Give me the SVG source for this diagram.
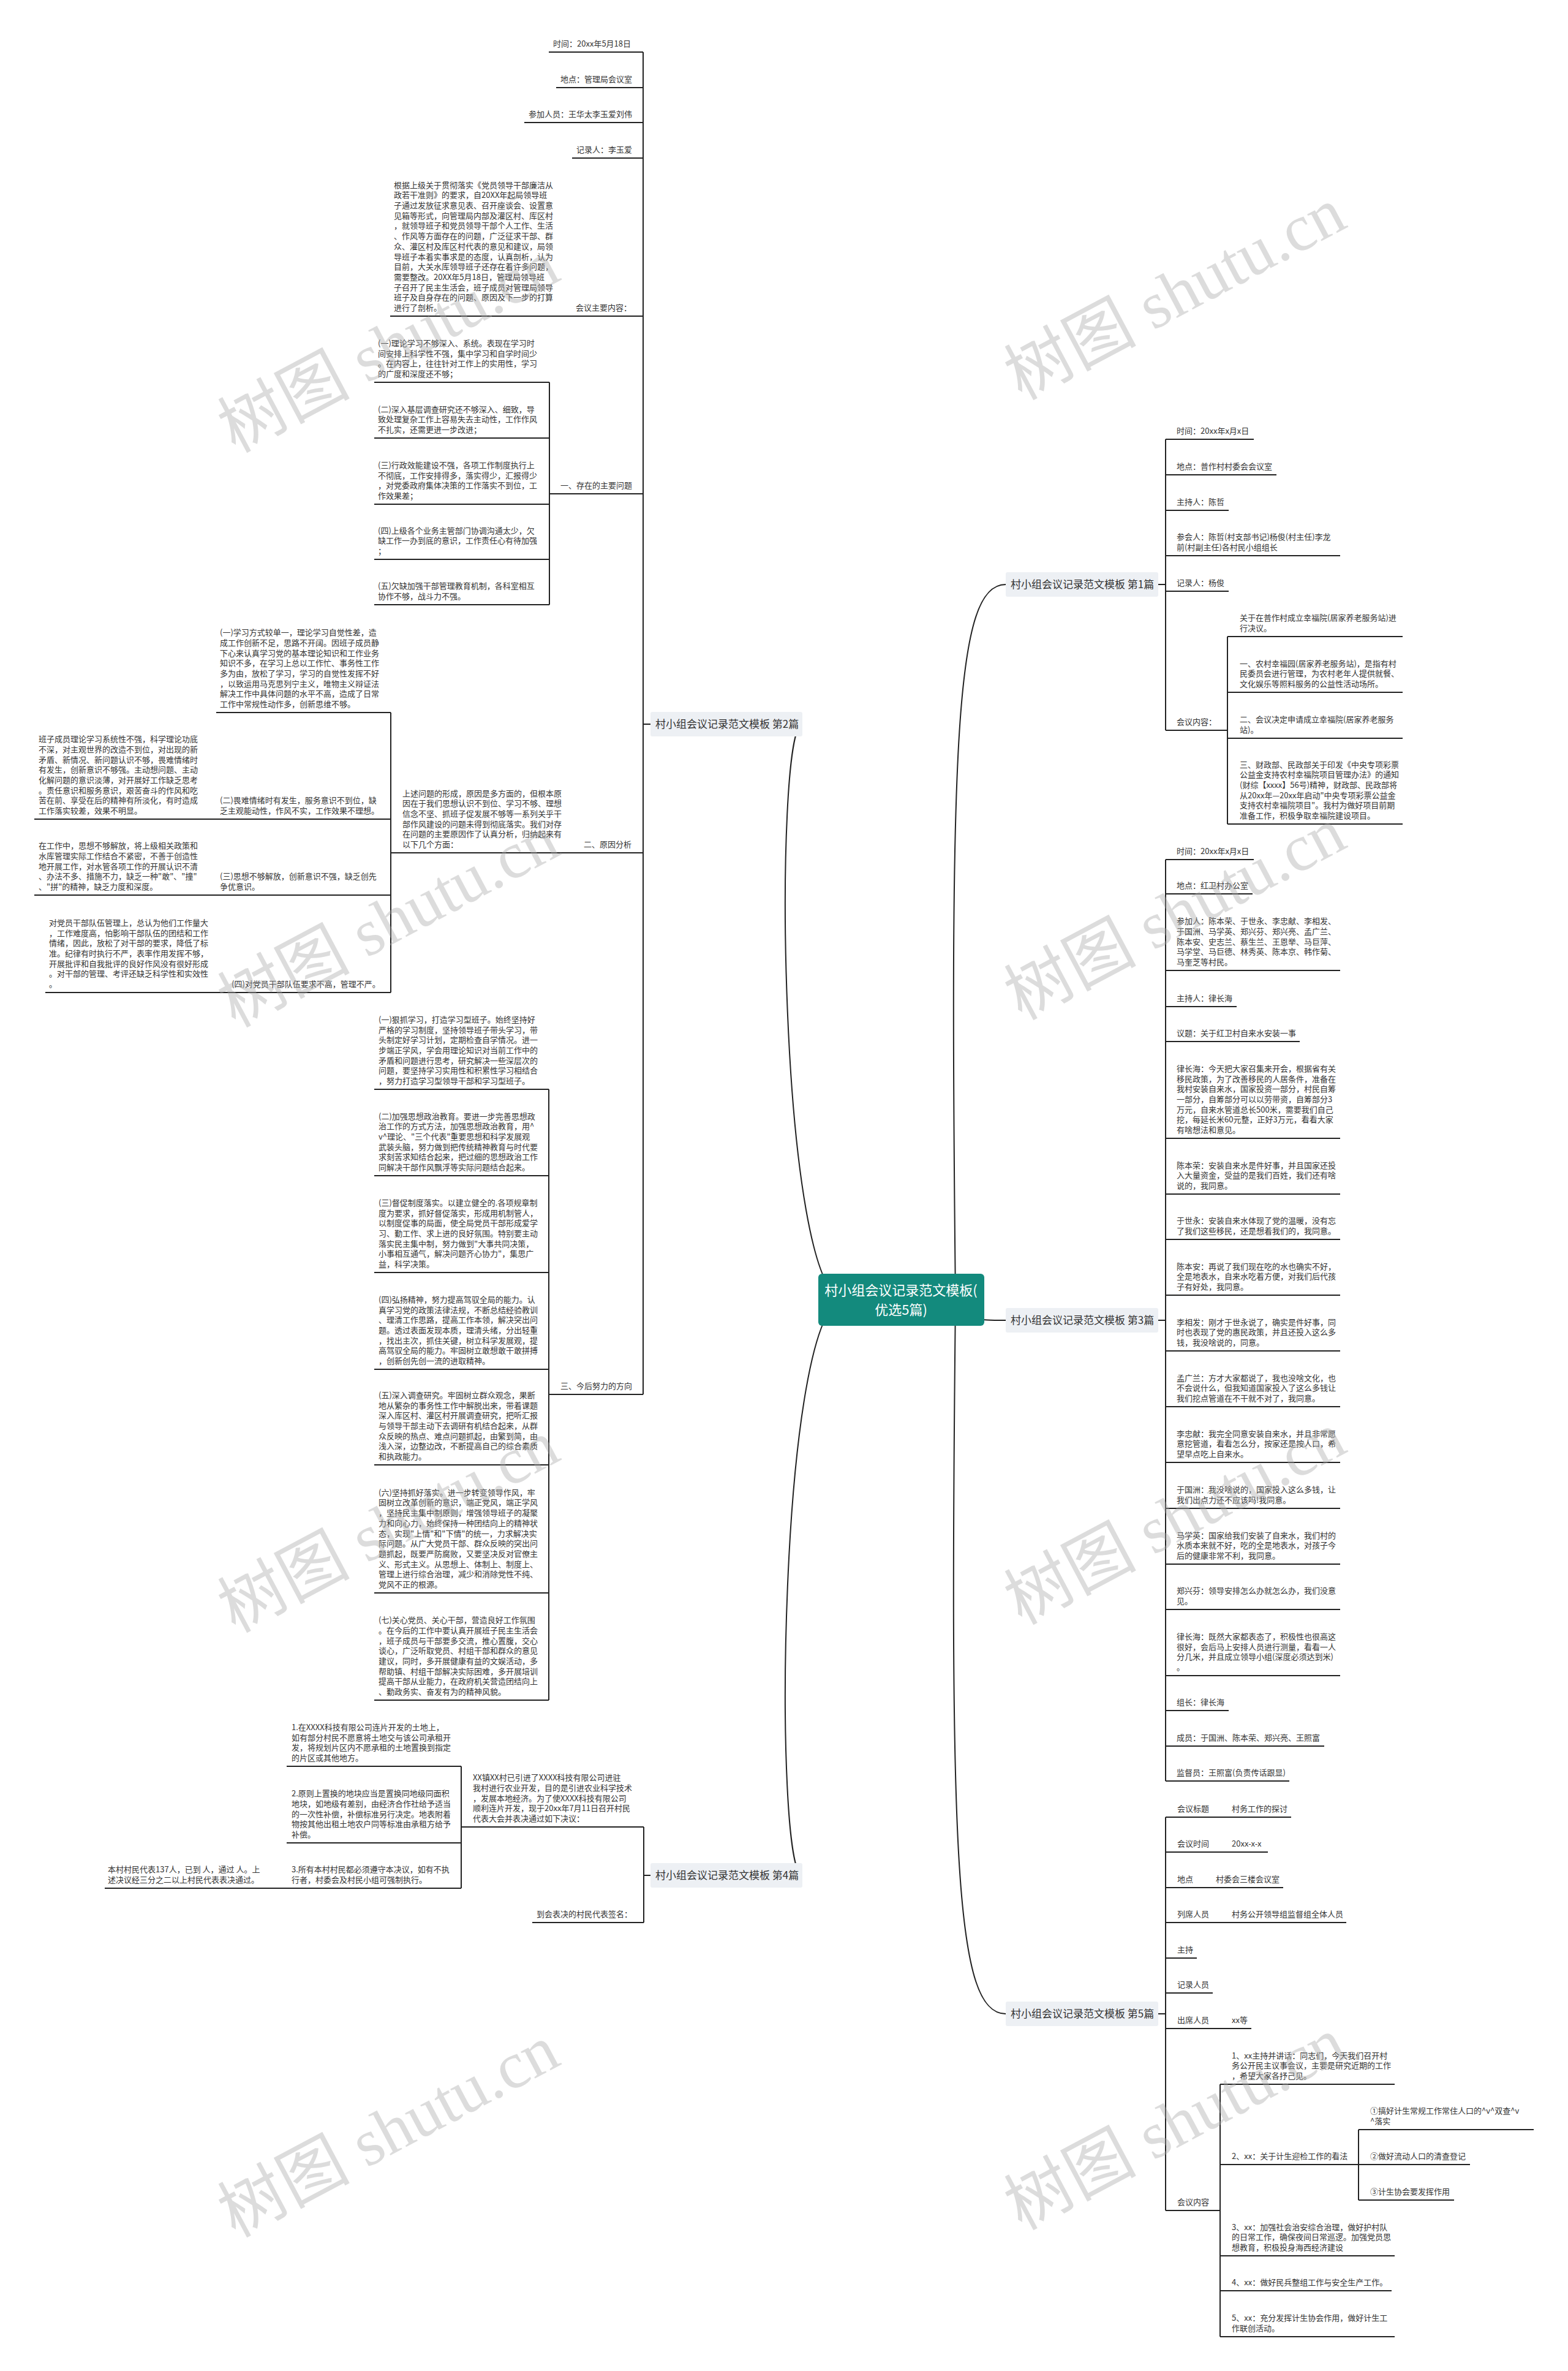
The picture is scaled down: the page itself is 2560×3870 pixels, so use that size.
<svg xmlns="http://www.w3.org/2000/svg" width="2560" height="3870" viewBox="0 0 2560 3870">
<style>
.t{font-family:"Noto Sans CJK SC","Noto Sans",sans-serif;font-size:13px;fill:#333}
.u{stroke:#222;stroke-width:2;fill:none}
.c{stroke:#222;stroke-width:2;fill:none}
.lb{fill:#edf0f4}
.lt{font-family:"Noto Sans CJK SC","Noto Sans",sans-serif;font-size:17px;fill:#333}
.ct{font-family:"Noto Sans CJK SC","Noto Sans",sans-serif;font-size:22px;fill:#fff}
.wm{font-family:"Liberation Serif","Noto Sans CJK SC",serif;font-size:108px;fill:#aaa;opacity:0.4}
</style>
<rect width="2560" height="3870" fill="#fff"/>

<g id="connectors">
<path class="c" d="M1380,2121 C1270,2121 1262,1182 1310,1182"/>
<path class="c" d="M1380,2121 C1270,2121 1262,3061 1310,3061"/>
<path class="c" d="M1560,2121 C1550,1200 1560,954 1642,954"/>
<path class="c" d="M1560,2121 C1560,2155 1600,2155 1642,2155"/>
<path class="c" d="M1560,2121 C1550,3040 1560,3287 1642,3287"/>
<path class="c" d="M1062,1182 H1050 M1050,85 V2276"/>
<path class="c" d="M897,624 V987"/>
<path class="c" d="M638,1163 V1620"/>
<path class="c" d="M896,1778 V2775"/>
<path class="c" d="M1062,3061 H1051 M1051,2982 V3138"/>
<path class="c" d="M753,2883 V3082"/>
<path class="c" d="M1891,954 H1903 M1903,717 V1192"/>
<path class="c" d="M2004,1039 V1345"/>
<path class="c" d="M1891,2155 H1903 M1903,1403 V2907"/>
<path class="c" d="M1891,3287 H1903 M1903,2966 V3608"/>
<path class="c" d="M1992,3402 V3814"/>
<path class="c" d="M2218,3476 V3591"/>
</g>

<g id="center">
<rect x="1336" y="2079" width="271" height="85" rx="6" fill="#138a7d"/>
<text class="ct" x="1471" y="2114" text-anchor="middle">村小组会议记录范文模板(</text>
<text class="ct" x="1471" y="2146" text-anchor="middle">优选5篇)</text>
</g>

<g id="b2"><rect class="lb" x="1062" y="1162" width="248" height="40" rx="3"/><text class="lt" x="1070" y="1188">村小组会议记录范文模板 第2篇</text></g>
<g id="b4"><rect class="lb" x="1062" y="3041" width="248" height="40" rx="3"/><text class="lt" x="1070" y="3067">村小组会议记录范文模板 第4篇</text></g>
<g id="b1"><rect class="lb" x="1642" y="934" width="249" height="40" rx="3"/><text class="lt" x="1650" y="960">村小组会议记录范文模板 第1篇</text></g>
<g id="b3"><rect class="lb" x="1642" y="2135" width="249" height="40" rx="3"/><text class="lt" x="1650" y="2161">村小组会议记录范文模板 第3篇</text></g>
<g id="b5"><rect class="lb" x="1642" y="3267" width="249" height="40" rx="3"/><text class="lt" x="1650" y="3293">村小组会议记录范文模板 第5篇</text></g>

<!-- 第2篇 -->
<g id="n2a"><text class="t" x="903" y="76">时间：20xx年5月18日</text><path class="u" d="M896,85 H1050"/></g>
<g id="n2b"><text class="t" x="915" y="134">地点：管理局会议室</text><path class="u" d="M908,143 H1050"/></g>
<g id="n2c"><text class="t" x="863" y="191">参加人员：王华太李玉爱刘伟</text><path class="u" d="M856,200 H1050"/></g>
<g id="n2d"><text class="t" x="941" y="249">记录人：李玉爱</text><path class="u" d="M934,258 H1050"/></g>
<g id="n2e"><text class="t" x="940" y="507">会议主要内容：</text><path class="u" d="M933,516 H1050"/></g>
<g id="n2e1"><text class="t" x="643" y="306.6"><tspan x="643">根据上级关于贯彻落实《党员领导干部廉洁从</tspan><tspan x="643" dy="16.7">政若干准则》的要求，自20XX年起局领导班</tspan><tspan x="643" dy="16.7">子通过发放征求意见表、召开座谈会、设置意</tspan><tspan x="643" dy="16.7">见箱等形式，向管理局内部及灌区村、库区村</tspan><tspan x="643" dy="16.7">，就领导班子和党员领导干部个人工作、生活</tspan><tspan x="643" dy="16.7">、作风等方面存在的问题，广泛征求干部、群</tspan><tspan x="643" dy="16.7">众、灌区村及库区村代表的意见和建议，局领</tspan><tspan x="643" dy="16.7">导班子本着实事求是的态度，认真剖析，认为</tspan><tspan x="643" dy="16.7">目前，大关水库领导班子还存在着许多问题，</tspan><tspan x="643" dy="16.7">需要整改。20XX年5月18日，管理局领导班</tspan><tspan x="643" dy="16.7">子召开了民主生活会，班子成员对管理局领导</tspan><tspan x="643" dy="16.7">班子及自身存在的问题、原因及下一步的打算</tspan><tspan x="643" dy="16.7">进行了剖析。</tspan></text><path class="u" d="M637,516 H933"/></g>

<g id="n2f"><text class="t" x="915" y="797">一、存在的主要问题</text><path class="u" d="M897,806 H1050"/></g>
<g id="n2f1"><text class="t" x="617" y="564.9"><tspan x="617">(一)理论学习不够深入、系统。表现在学习时</tspan><tspan x="617" dy="16.7">间安排上科学性不强，集中学习和自学时间少</tspan><tspan x="617" dy="16.7">。在内容上，往往针对工作上的实用性，学习</tspan><tspan x="617" dy="16.7">的广度和深度还不够；</tspan></text><path class="u" d="M611,624 H897"/></g>
<g id="n2f2"><text class="t" x="617" y="672.6"><tspan x="617">(二)深入基层调查研究还不够深入、细致，导</tspan><tspan x="617" dy="16.7">致处理复杂工作上容易失去主动性，工作作风</tspan><tspan x="617" dy="16.7">不扎实，还需更进一步改进；</tspan></text><path class="u" d="M611,715 H897"/></g>
<g id="n2f3"><text class="t" x="617" y="763.9"><tspan x="617">(三)行政效能建设不强，各项工作制度执行上</tspan><tspan x="617" dy="16.7">不彻底，工作安排得多，落实得少，汇报得少</tspan><tspan x="617" dy="16.7">，对党委政府集体决策的工作落实不到位，工</tspan><tspan x="617" dy="16.7">作效果差；</tspan></text><path class="u" d="M611,823 H897"/></g>
<g id="n2f4"><text class="t" x="617" y="870.6"><tspan x="617">(四)上级各个业务主管部门协调沟通太少，欠</tspan><tspan x="617" dy="16.7">缺工作一办到底的意识，工作责任心有待加强</tspan><tspan x="617" dy="16.7">；</tspan></text><path class="u" d="M611,913 H897"/></g>
<g id="n2f5"><text class="t" x="617" y="961.3"><tspan x="617">(五)欠缺加强干部管理教育机制，各科室相互</tspan><tspan x="617" dy="16.7">协作不够，战斗力不强。</tspan></text><path class="u" d="M611,987 H897"/></g>

<g id="n2g"><text class="t" x="953" y="1383">二、原因分析</text><path class="u" d="M945,1392 H1050"/></g>
<g id="n2g1"><text class="t" x="657" y="1299.5"><tspan x="657">上述问题的形成，原因是多方面的，但根本原</tspan><tspan x="657" dy="16.7">因在于我们思想认识不到位、学习不够、理想</tspan><tspan x="657" dy="16.7">信念不坚、抓班子促发展不够等一系列关乎干</tspan><tspan x="657" dy="16.7">部作风建设的问题未得到彻底落实。我们对存</tspan><tspan x="657" dy="16.7">在问题的主要原因作了认真分析，归纳起来有</tspan><tspan x="657" dy="16.7">以下几个方面：</tspan></text><path class="u" d="M638,1392 H945"/></g>
<g id="n2g1a"><text class="t" x="359" y="1037.1"><tspan x="359">(一)学习方式较单一，理论学习自觉性差，造</tspan><tspan x="359" dy="16.7">成工作创新不足，思路不开阔。因班子成员静</tspan><tspan x="359" dy="16.7">下心来认真学习党的基本理论知识和工作业务</tspan><tspan x="359" dy="16.7">知识不多，在学习上总以工作忙、事务性工作</tspan><tspan x="359" dy="16.7">多为由，放松了学习，学习的自觉性发挥不好</tspan><tspan x="359" dy="16.7">，以致运用马克思列宁主义，唯物主义辩证法</tspan><tspan x="359" dy="16.7">解决工作中具体问题的水平不高，造成了日常</tspan><tspan x="359" dy="16.7">工作中常规性动作多，创新思维不够。</tspan></text><path class="u" d="M353,1163 H638"/></g>
<g id="n2g1b"><text class="t" x="359" y="1311.3"><tspan x="359">(二)畏难情绪时有发生，服务意识不到位，缺</tspan><tspan x="359" dy="16.7">乏主观能动性，作风不实，工作效果不理想。</tspan></text><path class="u" d="M353,1337 H638"/></g>
<g id="n2g1b1"><text class="t" x="63" y="1211.1"><tspan x="63">班子成员理论学习系统性不强，科学理论功底</tspan><tspan x="63" dy="16.7">不深，对主观世界的改造不到位，对出现的新</tspan><tspan x="63" dy="16.7">矛盾、新情况、新问题认识不够，畏难情绪时</tspan><tspan x="63" dy="16.7">有发生，创新意识不够强。主动想问题、主动</tspan><tspan x="63" dy="16.7">化解问题的意识淡薄，对开展好工作缺乏思考</tspan><tspan x="63" dy="16.7">。责任意识和服务意识，艰苦奋斗的作风和吃</tspan><tspan x="63" dy="16.7">苦在前、享受在后的精神有所淡化，有时造成</tspan><tspan x="63" dy="16.7">工作落实较差，效果不明显。</tspan></text><path class="u" d="M56,1337 H353"/></g>
<g id="n2g1c"><text class="t" x="359" y="1435.3"><tspan x="359">(三)思想不够解放，创新意识不强，缺乏创先</tspan><tspan x="359" dy="16.7">争优意识。</tspan></text><path class="u" d="M353,1461 H638"/></g>
<g id="n2g1c1"><text class="t" x="63" y="1385.2"><tspan x="63">在工作中，思想不够解放，将上级相关政策和</tspan><tspan x="63" dy="16.7">水库管理实际工作结合不紧密，不善于创造性</tspan><tspan x="63" dy="16.7">地开展工作，对水管各项工作的开展认识不清</tspan><tspan x="63" dy="16.7">、办法不多、措施不力，缺乏一种"敢"、"撞"</tspan><tspan x="63" dy="16.7">、"拼"的精神，缺乏力度和深度。</tspan></text><path class="u" d="M56,1461 H353"/></g>
<g id="n2g1d"><text class="t" x="378" y="1611">(四)对党员干部队伍要求不高，管理不严。</text><path class="u" d="M370,1620 H638"/></g>
<g id="n2g1d1"><text class="t" x="80" y="1510.8"><tspan x="80">对党员干部队伍管理上，总认为他们工作量大</tspan><tspan x="80" dy="16.7">，工作难度高，怕影响干部队伍的团结和工作</tspan><tspan x="80" dy="16.7">情绪，因此，放松了对干部的要求，降低了标</tspan><tspan x="80" dy="16.7">准。纪律有时执行不严，表率作用发挥不够，</tspan><tspan x="80" dy="16.7">开展批评和自我批评的良好作风没有很好形成</tspan><tspan x="80" dy="16.7">。对干部的管理、考评还缺乏科学性和实效性</tspan><tspan x="80" dy="16.7">。</tspan></text><path class="u" d="M74,1620 H370"/></g>

<g id="n2h"><text class="t" x="915" y="2267">三、今后努力的方向</text><path class="u" d="M896,2276 H1050"/></g>
<g id="n2h1"><text class="t" x="618" y="1668.8"><tspan x="618">(一)狠抓学习，打造学习型班子。始终坚持好</tspan><tspan x="618" dy="16.7">严格的学习制度，坚持领导班子带头学习，带</tspan><tspan x="618" dy="16.7">头制定好学习计划，定期检查自学情况。进一</tspan><tspan x="618" dy="16.7">步端正学风，学会用理论知识对当前工作中的</tspan><tspan x="618" dy="16.7">矛盾和问题进行思考，研究解决一些深层次的</tspan><tspan x="618" dy="16.7">问题，要坚持学习实用性和积累性学习相结合</tspan><tspan x="618" dy="16.7">，努力打造学习型领导干部和学习型班子。</tspan></text><path class="u" d="M611,1778 H896"/></g>
<g id="n2h2"><text class="t" x="618" y="1826.5"><tspan x="618">(二)加强思想政治教育。要进一步完善思想政</tspan><tspan x="618" dy="16.7">治工作的方式方法，加强思想政治教育，用^</tspan><tspan x="618" dy="16.7">v^理论、"三个代表"重要思想和科学发展观</tspan><tspan x="618" dy="16.7">武装头脑，努力做到把传统精神教育与时代要</tspan><tspan x="618" dy="16.7">求刻苦求知结合起来，把过细的思想政治工作</tspan><tspan x="618" dy="16.7">同解决干部作风飘浮等实际问题结合起来。</tspan></text><path class="u" d="M611,1919 H896"/></g>
<g id="n2h3"><text class="t" x="618" y="1967.8"><tspan x="618">(三)督促制度落实。以建立健全的.各项规章制</tspan><tspan x="618" dy="16.7">度为要求，抓好督促落实，形成用机制管人，</tspan><tspan x="618" dy="16.7">以制度促事的局面，使全局党员干部形成爱学</tspan><tspan x="618" dy="16.7">习、勤工作、求上进的良好氛围。特别要主动</tspan><tspan x="618" dy="16.7">落实民主集中制，努力做到"大事共同决策，</tspan><tspan x="618" dy="16.7">小事相互通气，解决问题齐心协力"，集思广</tspan><tspan x="618" dy="16.7">益，科学决策。</tspan></text><path class="u" d="M611,2077 H896"/></g>
<g id="n2h4"><text class="t" x="618" y="2125.8"><tspan x="618">(四)弘扬精神，努力提高驾驭全局的能力。认</tspan><tspan x="618" dy="16.7">真学习党的政策法律法规，不断总结经验教训</tspan><tspan x="618" dy="16.7">、理清工作思路，提高工作本领，解决突出问</tspan><tspan x="618" dy="16.7">题。透过表面发现本质，理清头绪，分出轻重</tspan><tspan x="618" dy="16.7">，找出主次，抓住关键，树立科学发展观，提</tspan><tspan x="618" dy="16.7">高驾驭全局的能力。牢固树立敢想敢干敢拼搏</tspan><tspan x="618" dy="16.7">，创新创先创一流的进取精神。</tspan></text><path class="u" d="M611,2235 H896"/></g>
<g id="n2h5"><text class="t" x="618" y="2281.8"><tspan x="618">(五)深入调查研究。牢固树立群众观念，果断</tspan><tspan x="618" dy="16.7">地从繁杂的事务性工作中解脱出来，带着课题</tspan><tspan x="618" dy="16.7">深入库区村、灌区村开展调查研究，把听汇报</tspan><tspan x="618" dy="16.7">与领导干部主动下去调研有机结合起来，从群</tspan><tspan x="618" dy="16.7">众反映的热点、难点问题抓起，由繁到简，由</tspan><tspan x="618" dy="16.7">浅入深，边整边改，不断提高自己的综合素质</tspan><tspan x="618" dy="16.7">和执政能力。</tspan></text><path class="u" d="M611,2391 H896"/></g>
<g id="n2h6"><text class="t" x="618" y="2440.7"><tspan x="618">(六)坚持抓好落实。进一步转变领导作风，牢</tspan><tspan x="618" dy="16.7">固树立改革创新的意识，端正党风，端正学风</tspan><tspan x="618" dy="16.7">，坚持民主集中制原则，增强领导班子的凝聚</tspan><tspan x="618" dy="16.7">力和向心力，始终保持一种团结向上的精神状</tspan><tspan x="618" dy="16.7">态，实现"上情"和"下情"的统一，力求解决实</tspan><tspan x="618" dy="16.7">际问题。从广大党员干部、群众反映的突出问</tspan><tspan x="618" dy="16.7">题抓起，既要严防腐败，又要坚决反对官僚主</tspan><tspan x="618" dy="16.7">义、形式主义。从思想上、体制上、制度上、</tspan><tspan x="618" dy="16.7">管理上进行综合治理，减少和消除党性不纯、</tspan><tspan x="618" dy="16.7">党风不正的根源。</tspan></text><path class="u" d="M611,2600 H896"/></g>
<g id="n2h7"><text class="t" x="618" y="2649.1"><tspan x="618">(七)关心党员、关心干部，营造良好工作氛围</tspan><tspan x="618" dy="16.7">。在今后的工作中要认真开展班子民主生活会</tspan><tspan x="618" dy="16.7">，班子成员与干部要多交流，推心置腹，交心</tspan><tspan x="618" dy="16.7">谈心，广泛听取党员、村组干部和群众的意见</tspan><tspan x="618" dy="16.7">建议，同时，多开展健康有益的文娱活动，多</tspan><tspan x="618" dy="16.7">帮助镇、村组干部解决实际困难，多开展培训</tspan><tspan x="618" dy="16.7">提高干部从业能力，在政府机关营造团结向上</tspan><tspan x="618" dy="16.7">、勤政务实、奋发有为的精神风貌。</tspan></text><path class="u" d="M611,2775 H896"/></g>

<!-- 第4篇 -->
<g id="n4a"><text class="t" x="772" y="2906.2"><tspan x="772">XX镇XX村已引进了XXXX科技有限公司进驻</tspan><tspan x="772" dy="16.7">我村进行农业开发，目的是引进农业科学技术</tspan><tspan x="772" dy="16.7">，发展本地经济。为了使XXXX科技有限公司</tspan><tspan x="772" dy="16.7">顺利连片开发，现于20xx年7月11日召开村民</tspan><tspan x="772" dy="16.7">代表大会并表决通过如下决议：</tspan></text><path class="u" d="M753,2982 H1051"/></g>
<g id="n4a1"><text class="t" x="476" y="2823.9"><tspan x="476">1.在XXXX科技有限公司连片开发的土地上，</tspan><tspan x="476" dy="16.7">如有部分村民不愿意将土地交与该公司承租开</tspan><tspan x="476" dy="16.7">发，将规划片区内不愿承租的土地置换到指定</tspan><tspan x="476" dy="16.7">的片区或其他地方。</tspan></text><path class="u" d="M468,2883 H753"/></g>
<g id="n4a2"><text class="t" x="476" y="2932.2"><tspan x="476">2.原则上置换的地块应当是置换同地级同面积</tspan><tspan x="476" dy="16.7">地块，如地级有差别，由经济合作社给予适当</tspan><tspan x="476" dy="16.7">的一次性补偿，补偿标准另行决定。地表附着</tspan><tspan x="476" dy="16.7">物按其他出租土地农户同等标准由承租方给予</tspan><tspan x="476" dy="16.7">补偿。</tspan></text><path class="u" d="M468,3008 H753"/></g>
<g id="n4a3"><text class="t" x="476" y="3056.3"><tspan x="476">3.所有本村村民都必须遵守本决议，如有不执</tspan><tspan x="476" dy="16.7">行者，村委会及村民小组可强制执行。</tspan></text><path class="u" d="M468,3082 H753"/></g>
<g id="n4a3a"><text class="t" x="176" y="3056.3"><tspan x="176">本村村民代表137人，已到 人，通过 人。上</tspan><tspan x="176" dy="16.7">述决议经三分之二以上村民代表表决通过。</tspan></text><path class="u" d="M171,3082 H468"/></g>
<g id="n4b"><text class="t" x="876" y="3129">到会表决的村民代表签名：</text><path class="u" d="M869,3138 H1051"/></g>

<!-- 第1篇 -->
<g id="n1a"><text class="t" x="1921" y="708">时间：20xx年x月x日</text><path class="u" d="M1903,717 H2047"/></g>
<g id="n1b"><text class="t" x="1921" y="766">地点：普作村村委会会议室</text><path class="u" d="M1903,775 H2084"/></g>
<g id="n1c"><text class="t" x="1921" y="824">主持人：陈哲</text><path class="u" d="M1903,833 H2006"/></g>
<g id="n1d"><text class="t" x="1921" y="881.3"><tspan x="1921">参会人：陈哲(村支部书记)杨俊(村主任)李龙</tspan><tspan x="1921" dy="16.7">前(村副主任)各村民小组组长</tspan></text><path class="u" d="M1903,907 H2188"/></g>
<g id="n1e"><text class="t" x="1921" y="956">记录人：杨俊</text><path class="u" d="M1903,965 H2006"/></g>
<g id="n1f"><text class="t" x="1921" y="1183">会议内容：</text><path class="u" d="M1903,1192 H2004"/></g>
<g id="n1f1"><text class="t" x="2024" y="1013.3"><tspan x="2024">关于在普作村成立幸福院(居家养老服务站)进</tspan><tspan x="2024" dy="16.7">行决议。</tspan></text><path class="u" d="M2004,1039 H2290"/></g>
<g id="n1f2"><text class="t" x="2024" y="1087.6"><tspan x="2024">一、农村幸福园(居家养老服务站)，是指有村</tspan><tspan x="2024" dy="16.7">民委员会进行管理，为农村老年人提供就餐、</tspan><tspan x="2024" dy="16.7">文化娱乐等照料服务的公益性活动场所。</tspan></text><path class="u" d="M2004,1130 H2290"/></g>
<g id="n1f3"><text class="t" x="2024" y="1179.3"><tspan x="2024">二、会议决定申请成立幸福院(居家养老服务</tspan><tspan x="2024" dy="16.7">站)。</tspan></text><path class="u" d="M2004,1205 H2290"/></g>
<g id="n1f4"><text class="t" x="2024" y="1252.5"><tspan x="2024">三、财政部、民政部关于印发《中央专项彩票</tspan><tspan x="2024" dy="16.7">公益金支持农村幸福院项目管理办法》的通知</tspan><tspan x="2024" dy="16.7">(财综【xxxx】56号)精神，财政部、民政部将</tspan><tspan x="2024" dy="16.7">从20xx年—20xx年启动"中央专项彩票公益金</tspan><tspan x="2024" dy="16.7">支持农村幸福院项目"。我村为做好项目前期</tspan><tspan x="2024" dy="16.7">准备工作，积极争取幸福院建设项目。</tspan></text><path class="u" d="M2004,1345 H2290"/></g>

<!-- 第3篇 -->
<g id="n3a"><text class="t" x="1921" y="1394">时间：20xx年x月x日</text><path class="u" d="M1903,1403 H2047"/></g>
<g id="n3b"><text class="t" x="1921" y="1450">地点：红卫村办公室</text><path class="u" d="M1903,1459 H2045"/></g>
<g id="n3c"><text class="t" x="1921" y="1508.2"><tspan x="1921">参加人：陈本荣、于世永、李忠献、李相发、</tspan><tspan x="1921" dy="16.7">于国洲、马学英、郑兴芬、郑兴亮、孟广兰、</tspan><tspan x="1921" dy="16.7">陈本安、史志兰、蔡生兰、王恩举、马巨萍、</tspan><tspan x="1921" dy="16.7">马学堂、马巨德、林秀英、陈本京、韩作菊、</tspan><tspan x="1921" dy="16.7">马奎芝等村民。</tspan></text><path class="u" d="M1903,1584 H2188"/></g>
<g id="n3d"><text class="t" x="1921" y="1634">主持人：律长海</text><path class="u" d="M1903,1643 H2019"/></g>
<g id="n3e"><text class="t" x="1921" y="1691">议题：关于红卫村自来水安装一事</text><path class="u" d="M1903,1700 H2122"/></g>
<g id="n3f"><text class="t" x="1921" y="1748.8"><tspan x="1921">律长海：今天把大家召集来开会，根据省有关</tspan><tspan x="1921" dy="16.7">移民政策，为了改善移民的人居条件，准备在</tspan><tspan x="1921" dy="16.7">我村安装自来水，国家投资一部分，村民自筹</tspan><tspan x="1921" dy="16.7">一部分，自筹部分可以以劳带资，自筹部分3</tspan><tspan x="1921" dy="16.7">万元，自来水管道总长500米，需要我们自己</tspan><tspan x="1921" dy="16.7">挖，每延长米60元整，正好3万元，看看大家</tspan><tspan x="1921" dy="16.7">有啥想法和意见。</tspan></text><path class="u" d="M1903,1858 H2188"/></g>
<g id="n3g"><text class="t" x="1921" y="1906.6"><tspan x="1921">陈本荣：安装自来水是件好事，并且国家还投</tspan><tspan x="1921" dy="16.7">入大量资金，受益的是我们百姓，我们还有啥</tspan><tspan x="1921" dy="16.7">说的，我同意。</tspan></text><path class="u" d="M1903,1949 H2188"/></g>
<g id="n3h"><text class="t" x="1921" y="1997.3"><tspan x="1921">于世永：安装自来水体现了党的温暖，没有忘</tspan><tspan x="1921" dy="16.7">了我们这些移民，还是想着我们的，我同意。</tspan></text><path class="u" d="M1903,2023 H2188"/></g>
<g id="n3i"><text class="t" x="1921" y="2071.6"><tspan x="1921">陈本安：再说了我们现在吃的水也确实不好，</tspan><tspan x="1921" dy="16.7">全是地表水，自来水吃着方便，对我们后代孩</tspan><tspan x="1921" dy="16.7">子有好处，我同意。</tspan></text><path class="u" d="M1903,2114 H2188"/></g>
<g id="n3j"><text class="t" x="1921" y="2162.6"><tspan x="1921">李相发：刚才于世永说了，确实是件好事，同</tspan><tspan x="1921" dy="16.7">时也表现了党的惠民政策，并且还投入这么多</tspan><tspan x="1921" dy="16.7">钱，我没啥说的，同意。</tspan></text><path class="u" d="M1903,2205 H2188"/></g>
<g id="n3k"><text class="t" x="1921" y="2253.6"><tspan x="1921">孟广兰：方才大家都说了，我也没啥文化，也</tspan><tspan x="1921" dy="16.7">不会说什么，但我知道国家投入了这么多钱让</tspan><tspan x="1921" dy="16.7">我们挖点管道在不干就不对了，我同意。</tspan></text><path class="u" d="M1903,2296 H2188"/></g>
<g id="n3l"><text class="t" x="1921" y="2344.6"><tspan x="1921">李忠献：我完全同意安装自来水，并且非常愿</tspan><tspan x="1921" dy="16.7">意挖管道，看看怎么分，按家还是按人口，希</tspan><tspan x="1921" dy="16.7">望早点吃上自来水。</tspan></text><path class="u" d="M1903,2387 H2188"/></g>
<g id="n3m"><text class="t" x="1921" y="2436.3"><tspan x="1921">于国洲：我没啥说的，国家投入这么多钱，让</tspan><tspan x="1921" dy="16.7">我们出点力还不应该吗!我同意。</tspan></text><path class="u" d="M1903,2462 H2188"/></g>
<g id="n3n"><text class="t" x="1921" y="2510.6"><tspan x="1921">马学英：国家给我们安装了自来水，我们村的</tspan><tspan x="1921" dy="16.7">水质本来就不好，吃的全是地表水，对孩子今</tspan><tspan x="1921" dy="16.7">后的健康非常不利，我同意。</tspan></text><path class="u" d="M1903,2553 H2188"/></g>
<g id="n3o"><text class="t" x="1921" y="2601.3"><tspan x="1921">郑兴芬：领导安排怎么办就怎么办，我们没意</tspan><tspan x="1921" dy="16.7">见。</tspan></text><path class="u" d="M1903,2627 H2188"/></g>
<g id="n3p"><text class="t" x="1921" y="2675.9"><tspan x="1921">律长海：既然大家都表态了，积极性也很高这</tspan><tspan x="1921" dy="16.7">很好，会后马上安排人员进行测量，看看一人</tspan><tspan x="1921" dy="16.7">分几米，并且成立领导小组(深度必须达到米)</tspan><tspan x="1921" dy="16.7">。</tspan></text><path class="u" d="M1903,2735 H2188"/></g>
<g id="n3q"><text class="t" x="1921" y="2783">组长：律长海</text><path class="u" d="M1903,2792 H2006"/></g>
<g id="n3r"><text class="t" x="1921" y="2841">成员：于国洲、陈本荣、郑兴亮、王照富</text><path class="u" d="M1903,2850 H2162"/></g>
<g id="n3s"><text class="t" x="1921" y="2898">监督员：王照富(负责传话跟显)</text><path class="u" d="M1903,2907 H2105"/></g>

<!-- 第5篇 -->
<g id="n5a"><text class="t" x="1922" y="2957">会议标题</text><path class="u" d="M1903,2966 H1992"/></g>
<g id="n5a1"><text class="t" x="2011" y="2957">村务工作的探讨</text><path class="u" d="M1992,2966 H2108"/></g>
<g id="n5b"><text class="t" x="1922" y="3014">会议时间</text><path class="u" d="M1903,3023 H1992"/></g>
<g id="n5b1"><text class="t" x="2011" y="3014">20xx-x-x</text><path class="u" d="M1992,3023 H2070"/></g>
<g id="n5c"><text class="t" x="1922" y="3072">地点</text><path class="u" d="M1903,3081 H1966"/></g>
<g id="n5c1"><text class="t" x="1985" y="3072">村委会三楼会议室</text><path class="u" d="M1966,3081 H2095"/></g>
<g id="n5d"><text class="t" x="1922" y="3129">列席人员</text><path class="u" d="M1903,3138 H1992"/></g>
<g id="n5d1"><text class="t" x="2011" y="3129">村务公开领导组监督组全体人员</text><path class="u" d="M1992,3138 H2198"/></g>
<g id="n5e"><text class="t" x="1922" y="3187">主持</text><path class="u" d="M1903,3196 H1954"/></g>
<g id="n5f"><text class="t" x="1922" y="3244">记录人员</text><path class="u" d="M1903,3253 H1980"/></g>
<g id="n5g"><text class="t" x="1922" y="3302">出席人员</text><path class="u" d="M1903,3311 H1992"/></g>
<g id="n5g1"><text class="t" x="2011" y="3302">xx等</text><path class="u" d="M1992,3311 H2043"/></g>
<g id="n5h"><text class="t" x="1922" y="3599">会议内容</text><path class="u" d="M1903,3608 H1992"/></g>
<g id="n5h1"><text class="t" x="2011" y="3359.6"><tspan x="2011">1、xx主持并讲话：同志们，今天我们召开村</tspan><tspan x="2011" dy="16.7">务公开民主议事会议，主要是研究近期的工作</tspan><tspan x="2011" dy="16.7">，希望大家各抒己见。</tspan></text><path class="u" d="M1992,3402 H2277"/></g>
<g id="n5h2"><text class="t" x="2011" y="3524">2、xx：关于计生迎检工作的看法</text><path class="u" d="M1992,3533 H2218"/></g>
<g id="n5h2a"><text class="t" x="2237" y="3450.3"><tspan x="2237">①搞好计生常规工作常住人口的^v^双查^v</tspan><tspan x="2237" dy="16.7">^落实</tspan></text><path class="u" d="M2218,3476 H2504"/></g>
<g id="n5h2b"><text class="t" x="2237" y="3524">②做好流动人口的清查登记</text><path class="u" d="M2218,3533 H2400"/></g>
<g id="n5h2c"><text class="t" x="2237" y="3582">③计生协会要发挥作用</text><path class="u" d="M2218,3591 H2374"/></g>
<g id="n5h3"><text class="t" x="2011" y="3639.6"><tspan x="2011">3、xx：加强社会治安综合治理，做好护村队</tspan><tspan x="2011" dy="16.7">的日常工作，确保夜间日常巡逻。加强党员思</tspan><tspan x="2011" dy="16.7">想教育，积极投身海西经济建设</tspan></text><path class="u" d="M1992,3682 H2277"/></g>
<g id="n5h4"><text class="t" x="2011" y="3730">4、xx：做好民兵整组工作与安全生产工作。</text><path class="u" d="M1992,3739 H2272"/></g>
<g id="n5h5"><text class="t" x="2011" y="3788.3"><tspan x="2011">5、xx：充分发挥计生协会作用，做好计生工</tspan><tspan x="2011" dy="16.7">作联创活动。</tspan></text><path class="u" d="M1992,3814 H2277"/></g>

<g id="watermark">
<text class="wm" x="642" y="600" text-anchor="middle" transform="rotate(-28 642 580)">树图 shutu.cn</text>
<text class="wm" x="1926" y="514" text-anchor="middle" transform="rotate(-28 1926 494)">树图 shutu.cn</text>
<text class="wm" x="642" y="1538" text-anchor="middle" transform="rotate(-28 642 1518)">树图 shutu.cn</text>
<text class="wm" x="1926" y="1526" text-anchor="middle" transform="rotate(-28 1926 1506)">树图 shutu.cn</text>
<text class="wm" x="642" y="2526" text-anchor="middle" transform="rotate(-28 642 2506)">树图 shutu.cn</text>
<text class="wm" x="1926" y="2513" text-anchor="middle" transform="rotate(-28 1926 2493)">树图 shutu.cn</text>
<text class="wm" x="642" y="3513" text-anchor="middle" transform="rotate(-28 642 3493)">树图 shutu.cn</text>
<text class="wm" x="1926" y="3501" text-anchor="middle" transform="rotate(-28 1926 3481)">树图 shutu.cn</text>
</g>
</svg>
